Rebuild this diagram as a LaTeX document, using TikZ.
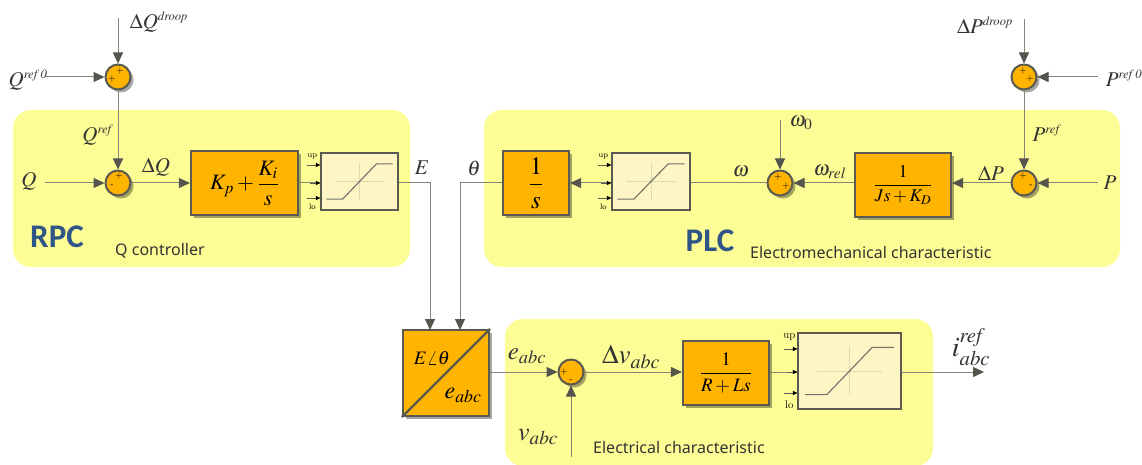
\documentclass[tikz,border=0pt]{standalone}
\usepackage{amsmath}
\usepackage{fontspec}
\usepackage{mathptmx}
\newfontfamily\labelfont{Noto Sans}
\newfontfamily\titlefont{Carlito}
\usetikzlibrary{arrows.meta,shadows,calc}
\definecolor{zone}{HTML}{FDFD96}
\definecolor{blk}{HTML}{FFB400}
\definecolor{edgeC}{HTML}{5A5A50}
\definecolor{lineC}{HTML}{85857A}
\definecolor{tipC}{HTML}{55554E}
\definecolor{satC}{HTML}{FDF5C4}
\definecolor{titleC}{HTML}{2F5587}
\definecolor{txtC}{HTML}{333333}
\newcommand{\supx}[1]{^{\scriptscriptstyle\mathit{#1}}}
\tikzset{
  x=1pt,y=-1pt,
  zonebox/.style={fill=zone,draw=none,rounded corners=18pt},
  softshadow/.style={drop shadow={shadow xshift=3pt,shadow yshift=-3pt,opacity=0.35,fill=black}},
  blockbox/.style={draw=edgeC,line width=2.2pt,fill=blk,softshadow,inner sep=0pt,text=black,font=\fontsize{22}{24}\selectfont},
  sumnode/.style={circle,draw=edgeC,line width=2pt,fill=blk,minimum size=25pt,inner sep=0pt,softshadow},
  satbox/.style={draw=edgeC,line width=1.2pt,fill=satC,inner sep=0pt},
  conn/.style={draw=lineC,line width=1pt},
  arr/.style={conn,-{Triangle[length=11pt,width=10pt,fill=tipC,color=tipC]}},
  smallarr/.style={draw=edgeC,line width=0.6pt,-{Triangle[length=4.5pt,width=4pt,fill=black,color=black]}},
  mathlab/.style={inner sep=0pt,text=txtC,font=\fontsize{21}{23}\selectfont},
  signlab/.style={inner sep=0pt,text=black,font=\fontsize{10}{10}\selectfont},
  zonetitle/.style={inner sep=0pt,text=titleC,font=\titlefont\bfseries\fontsize{33}{35}\selectfont},
  zonecap/.style={inner sep=0pt,text=txtC,font=\labelfont\fontsize{16}{18}\selectfont},
}
% name, cx, cy, w, h, port label size
\newcommand{\satblock}[6]{%
  \node[satbox,minimum width=#4pt,minimum height=#5pt] (#1) at (#2,#3) {};
  \draw[draw=satC!75!gray,line width=0.5pt] ($(#1.center)+(-0.32*#4,0)$) -- ($(#1.center)+(0.32*#4,0)$);
  \draw[draw=satC!75!gray,line width=0.5pt] ($(#1.center)+(0,-0.32*#5)$) -- ($(#1.center)+(0,0.32*#5)$);
  \draw[draw=lineC!85!black,line width=1.1pt] ($(#1.center)+(-0.43*#4,0.31*#5)$) -- ($(#1.center)+(-0.22*#4,0.31*#5)$) -- ($(#1.center)+(0.22*#4,-0.31*#5)$) -- ($(#1.center)+(0.43*#4,-0.31*#5)$);
  \coordinate (#1up) at ($(#1.west)+(-13,-0.29*#5)$);
  \coordinate (#1lo) at ($(#1.west)+(-13,0.29*#5)$);
  \coordinate (#1upE) at ($(#1.west)+(0,-0.29*#5)$);
  \coordinate (#1loE) at ($(#1.west)+(0,0.29*#5)$);
  \draw[smallarr] (#1up) -- (#1upE);
  \draw[smallarr] (#1lo) -- (#1loE);
  \node[inner sep=0pt,font=\fontsize{#6}{#6}\selectfont] (#1uplab) at ($(#1.west)+(-8,-0.44*#5)$) {up};
  \node[inner sep=0pt,font=\fontsize{#6}{#6}\selectfont] (#1lolab) at ($(#1.west)+(-8,0.44*#5)$) {lo};
}
\begin{document}
\begin{tikzpicture}
\useasboundingbox (0,0) rectangle (1142,465);
\clip (0,0) rectangle (1142,465);
\fill[white] (0,0) rectangle (1142,465);
% zones
\path[zonebox] (13,110) rectangle (410,267);
\path[zonebox] (484,110) rectangle (1120,267);
\path[zonebox] (505,319) rectangle (933,466);

% free ends
\coordinate (dQ) at (118,18);
\coordinate (Qr0) at (45,77);
\coordinate (Qin) at (45,183);
\coordinate (dP) at (1024,19);
\coordinate (Pr0) at (1098,77);
\coordinate (Pin) at (1098,183);
\coordinate (w0) at (780,120);
\coordinate (vin) at (571,457);
\coordinate (iout) at (984,372);

% sums
\node[sumnode] (s1) at (118,77) {};
\node[sumnode] (s2) at (118,183) {};
\node[sumnode] (s3) at (780,183) {};
\node[sumnode] (s4) at (1024,183) {};
\node[sumnode] (s5) at (1024,77) {};
\node[sumnode] (s6) at (571,372) {};
\node[signlab] (s1a) at (120,71) {+};
\node[signlab] (s1b) at (112,79) {+};
\node[signlab] (s2a) at (119,176) {+};
\node[signlab] (s2b) at (112,186) {-};
\node[signlab] (s3a) at (778,177) {+};
\node[signlab] (s3b) at (786,186) {+};
\node[signlab] (s4a) at (1023,176) {+};
\node[signlab] (s4b) at (1031,186) {-};
\node[signlab] (s5a) at (1023,71) {+};
\node[signlab] (s5b) at (1030,79) {+};
\node[signlab] (s6a) at (564,372) {+};
\node[signlab] (s6b) at (571,381) {-};

% blocks
\node[blockbox,minimum width=107pt,minimum height=64pt] (K) at (244.5,183) {$K_p+\dfrac{K_i}{s}$};
\node[blockbox,minimum width=66pt,minimum height=64pt,font=\fontsize{25}{27}\selectfont] (I) at (536,183) {$\dfrac{1}{s}$};
\node[blockbox,minimum width=96pt,minimum height=64pt,font=\fontsize{18}{20}\selectfont] (J) at (903,185) {$\dfrac{1}{Js+K_D}$};
\node[blockbox,minimum width=86pt,minimum height=64pt,font=\fontsize{19}{21}\selectfont] (R) at (726,373) {$\dfrac{1}{R+Ls}$};
\node[blockbox,minimum width=86pt,minimum height=86pt] (C) at (446,373) {};
\draw[draw=edgeC,line width=2.2pt] (C.south west) -- (C.north east);
\node[inner sep=0pt,font=\fontsize{19}{21}\selectfont] (Ct) at (432,358) {$E\angle\theta$};
\node[inner sep=0pt,font=\fontsize{24}{26}\selectfont] (Cb) at (463,395) {$e_{abc}$};

% saturations
\satblock{sa}{359.5}{181.5}{77}{57}{8}
\satblock{sb}{651}{181.5}{78}{57}{8}
\satblock{sc}{849.5}{371}{103}{76}{11}

% connectors
\draw[arr] (dQ) -- (s1);
\draw[arr] (Qr0) -- (s1);
\draw[arr] (s1) -- (s2);
\draw[arr] (Qin) -- (s2);
\draw[arr] (s2) -- (K);
\draw[conn] (K.east) -- (sa.west |- K.east);
\draw[smallarr] ($(sa.west |- K.east)+(-10,0)$) -- (sa.west |- K.east);
\draw[arr] (sb.west |- I.east) -- (I.east);
\draw[smallarr] ($(sb.west |- I.east)+(-10,0)$) -- (sb.west |- I.east);
\draw[conn] (sb.east |- s3) -- (s3);
\draw[arr] (w0) -- (s3);
\draw[arr] (J.west |- s3) -- (s3);
\draw[arr] (s4) -- (J.east |- s4);
\draw[arr] (Pin) -- (s4);
\draw[arr] (s5) -- (s4);
\draw[arr] (dP) -- (s5);
\draw[arr] (Pr0) -- (s5);
\coordinate (Cin1) at (430,330);
\coordinate (Cin2) at (460,330);
\draw[arr] (sa.east |- K.east) -| (Cin1);
\draw[arr] (I.west) -| (Cin2);
\draw[arr] (C.east |- s6) -- (s6);
\draw[arr] (vin) -- (s6);
\draw[arr] (s6) -- (R.west |- s6);
\draw[conn] (R.east |- s6) -- (sc.west |- s6);
\draw[smallarr] ($(sc.west |- s6)+(-10,0)$) -- (sc.west |- s6);
\draw[arr] (sc.east |- s6) -- (iout);

% labels
\node[mathlab] (lQdr) at (159,22) {$\Delta Q\supx{droop}$};
\node[mathlab] (lQr0) at (28,80) {$Q\supx{ref\,0}$};
\node[mathlab] (lQr) at (98,135) {$Q\supx{ref}$};
\node[mathlab] (lQ) at (29,181) {$Q$};
\node[mathlab] (ldQ) at (156,167) {$\Delta Q$};
\node[mathlab] (lE) at (422,168) {$E$};
\node[mathlab] (lth) at (474,168) {$\theta$};
\node[mathlab] (lw) at (741,171) {$\omega$};
\node[mathlab] (lw0) at (801,123) {$\omega_0$};
\node[mathlab] (lwr) at (830,172) {$\omega_{rel}$};
\node[mathlab] (ldP) at (991,173) {$\Delta P$};
\node[mathlab] (lPr) at (1047,133) {$P\supx{ref}$};
\node[mathlab] (lP) at (1110,183) {$P$};
\node[mathlab] (lPr0) at (1124,78) {$P\supx{ref\,0}$};
\node[mathlab] (ldPd) at (985,25) {$\Delta P\supx{droop}$};
\node[mathlab,font=\fontsize{25}{27}\selectfont] (leabc) at (527,356) {$e_{abc}$};
\node[mathlab,font=\fontsize{27}{29}\selectfont] (ldv) at (631,357) {$\Delta v_{abc}$};
\node[mathlab,font=\fontsize{26}{28}\selectfont] (lv) at (538,437) {$v_{abc}$};
\node[mathlab,font=\fontsize{28}{30}\selectfont] (li) at (971,347) {$i_{abc}^{\mathit{ref}}$};
\node[zonetitle] (tR) at (57,237) {RPC};
\node[zonetitle] (tP) at (710,241) {PLC};
\node[zonecap,anchor=west] (cR) at (115,251) {Q controller};
\node[zonecap,anchor=west] (cP) at (750,252) {Electromechanical characteristic};
\node[zonecap,anchor=west] (cE) at (593,447) {Electrical characteristic};
\end{tikzpicture}
\end{document}
